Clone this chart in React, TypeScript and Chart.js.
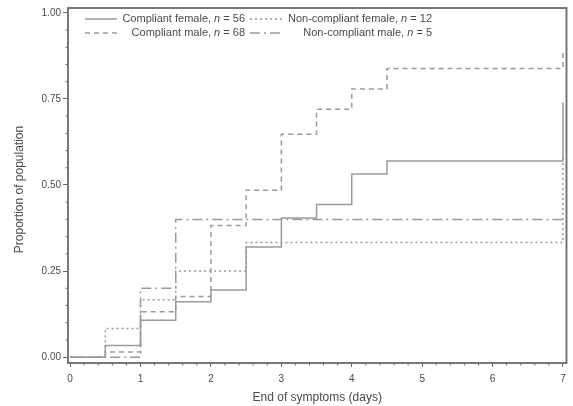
import React, { useEffect, useRef } from "react";
import { Chart, registerables } from "chart.js";

Chart.register(...registerables);

const days = [0, 0.5, 1, 1.5, 2, 2.5, 3, 3.5, 4, 4.5, 7];
const compliantFemale = [0, 0.034, 0.107, 0.161, 0.195, 0.32, 0.404, 0.443, 0.532, 0.57, 0.57];
const compliantFemaleEnd = 0.74;
const compliantMale = [0, 0.015, 0.132, 0.176, 0.382, 0.485, 0.647, 0.72, 0.779, 0.838, 0.838];
const compliantMaleEnd = 0.885;
const nonCompliantFemale = [0, 0.083, 0.167, 0.25, 0.25, 0.333, 0.333, 0.333, 0.333, 0.333, 0.333];
const nonCompliantFemaleEnd = 0.583;
const nonCompliantMale = [0, 0, 0.2, 0.4, 0.4, 0.4, 0.4, 0.4, 0.4, 0.4, 0.4];
const nonCompliantMaleEnd = 0.4;

const xTicks = [0, 1, 2, 3, 4, 5, 6, 7];
const yTicks = [0, 0.25, 0.5, 0.75, 1.0];

const legendItems = [
  { pre: "Compliant female, ", n: "n", post: " = 56", dash: [] as number[] },
  { pre: "Non-compliant female, ", n: "n", post: " = 12", dash: [2, 3] },
  { pre: "Compliant male, ", n: "n", post: " = 68", dash: [5, 4] },
  { pre: "Non-compliant male, ", n: "n", post: " = 5", dash: [10, 4, 2, 4] },
];

const FONT = "'Liberation Sans', Arial, sans-serif";
const TEXT = "#4a4a4a";
const FRAME = "#6a6a6a";
const LINE = "#9a9a9a";

function series(vals: number[], end: number) {
  const pts = days.map((d, i) => ({ x: d, y: vals[i] }));
  pts.push({ x: 7, y: end });
  return pts;
}

const overlay = {
  id: "overlay",
  afterDraw(chart: any) {
    const { ctx, chartArea: a, scales } = chart;
    const xs = scales.x;
    const ys = scales.y;
    ctx.save();
    // frame
    ctx.strokeStyle = FRAME;
    ctx.lineWidth = 1.8;
    ctx.setLineDash([]);
    ctx.strokeRect(a.left, a.top, a.right - a.left, a.bottom - a.top);
    // minor ticks
    ctx.lineWidth = 1;
    ctx.beginPath();
    for (let i = 0; i <= 35; i++) {
      if (i % 5 === 0) continue;
      const px = xs.getPixelForValue(i * 0.2);
      ctx.moveTo(px, a.bottom);
      ctx.lineTo(px, a.bottom + 2.5);
    }
    for (let i = 0; i <= 20; i++) {
      if (i % 5 === 0) continue;
      const py = ys.getPixelForValue(i * 0.05);
      ctx.moveTo(a.left, py);
      ctx.lineTo(a.left - 2.5, py);
    }
    ctx.stroke();
    // axis titles
    ctx.fillStyle = TEXT;
    ctx.font = `12px ${FONT}`;
    ctx.textAlign = "center";
    ctx.textBaseline = "middle";
    ctx.fillText("End of symptoms (days)", (a.left + a.right) / 2, 398);
    ctx.save();
    ctx.translate(20, (a.top + a.bottom) / 2 + 4);
    ctx.rotate(-Math.PI / 2);
    ctx.fillText("Proportion of population", 0, 0);
    ctx.restore();
    // legend
    const cols = [
      { l0: 85, l1: 117, tr: 245 },
      { l0: 250, l1: 283, tr: 432 },
    ];
    const rows = [19, 33];
    legendItems.forEach((it, i) => {
      const c = cols[i % 2];
      const y = rows[Math.floor(i / 2)];
      ctx.strokeStyle = LINE;
      ctx.lineWidth = 1.5;
      ctx.setLineDash(it.dash);
      ctx.beginPath();
      ctx.moveTo(c.l0, y);
      ctx.lineTo(c.l1, y);
      ctx.stroke();
      ctx.setLineDash([]);
      const reg = `11px ${FONT}`;
      const ita = `italic 11px ${FONT}`;
      ctx.font = reg;
      const wPost = ctx.measureText(it.post).width;
      const wPre = ctx.measureText(it.pre).width;
      ctx.font = ita;
      const wN = ctx.measureText(it.n).width;
      let x = c.tr - wPost - wN - wPre;
      ctx.textAlign = "left";
      ctx.textBaseline = "middle";
      ctx.fillStyle = TEXT;
      ctx.font = reg;
      ctx.fillText(it.pre, x, y);
      x += wPre;
      ctx.font = ita;
      ctx.fillText(it.n, x, y);
      x += wN;
      ctx.font = reg;
      ctx.fillText(it.post, x, y);
    });
    ctx.restore();
  },
};

export default function App() {
  const ref = useRef<HTMLCanvasElement | null>(null);
  useEffect(() => {
    document.body.style.margin = "0";
    const canvas = ref.current;
    if (!canvas) return;
    const ds = (label: string, data: any[], dash: number[]) => ({
      label,
      data,
      stepped: "before" as const,
      borderColor: LINE,
      borderWidth: 1.5,
      borderDash: dash,
      pointRadius: 0,
      fill: false,
    });
    const chart = new Chart(canvas, {
      type: "line",
      data: {
        datasets: [
          ds("Non-compliant male, n = 5", series(nonCompliantMale, nonCompliantMaleEnd), [10, 4, 2, 4]),
          ds("Non-compliant female, n = 12", series(nonCompliantFemale, nonCompliantFemaleEnd), [2, 3]),
          ds("Compliant male, n = 68", series(compliantMale, compliantMaleEnd), [5, 4]),
          ds("Compliant female, n = 56", series(compliantFemale, compliantFemaleEnd), []),
        ],
      },
      options: {
        animation: false,
        responsive: false,
        maintainAspectRatio: false,
        devicePixelRatio: 1,
        layout: { padding: { left: 0, right: 6.5, top: 5, bottom: 0 } },
        plugins: { legend: { display: false }, tooltip: { enabled: false } },
        scales: {
          x: {
            type: "linear",
            min: -0.03,
            max: 7.05,
            afterBuildTicks: (s: any) => {
              s.ticks = xTicks.map((v) => ({ value: v }));
            },
            afterFit: (s: any) => {
              s.height = 406 - 363;
            },
            grid: { drawOnChartArea: false, drawTicks: true, tickLength: 4, color: FRAME, lineWidth: 1 },
            border: { display: false },
            ticks: {
              color: TEXT,
              font: { family: FONT, size: 10 },
              padding: 6,
              maxRotation: 0,
              callback: (v: any) => String(v),
            },
          },
          y: {
            type: "linear",
            min: -0.017,
            max: 1.014,
            afterBuildTicks: (s: any) => {
              s.ticks = yTicks.map((v) => ({ value: v }));
            },
            afterFit: (s: any) => {
              s.width = 68;
            },
            grid: { drawOnChartArea: false, drawTicks: true, tickLength: 5, color: FRAME, lineWidth: 1 },
            border: { display: false },
            ticks: {
              color: TEXT,
              font: { family: FONT, size: 10 },
              padding: 2,
              callback: (v: any) => Number(v).toFixed(2),
            },
          },
        },
      },
      plugins: [overlay],
    });
    return () => chart.destroy();
  }, []);
  return (
    <div style={{ width: 573, height: 406, background: "#fff" }}>
      <canvas ref={ref} width={573} height={406} style={{ display: "block" }} />
    </div>
  );
}
